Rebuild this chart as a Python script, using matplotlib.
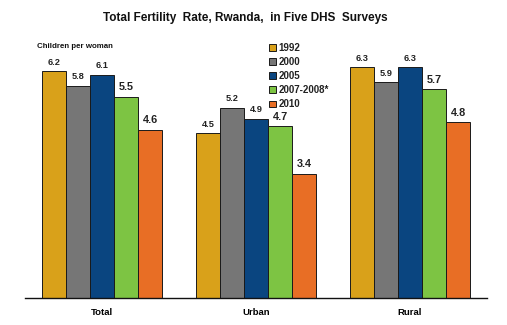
import matplotlib.pyplot as plt
import numpy as np

plt.rcParams['font.family'] = ['Liberation Sans', 'DejaVu Sans']

categories = ["Total", "Urban", "Rural"]
series_names = ["1992", "2000", "2005", "2007-2008*", "2010"]
values = {
    "1992": [6.2, 4.5, 6.3],
    "2000": [5.8, 5.2, 5.9],
    "2005": [6.1, 4.9, 6.3],
    "2007-2008*": [5.5, 4.7, 5.7],
    "2010": [4.6, 3.4, 4.8],
}
colors = ["#D9A11A", "#767676", "#0A4580", "#7DC443", "#E86E25"]
big_label = {"2007-2008*": True, "2010": True}

fig = plt.figure(figsize=(5.07, 3.25), dpi=100)
ax = fig.add_axes([25/507, 1 - 298/325, 462/507, 258/325])

x = np.arange(len(categories))
w = 0.156
n = len(series_names)
for i, (name, c) in enumerate(zip(series_names, colors)):
    xs = x + (i - (n - 1) / 2) * w
    bars = ax.bar(xs, values[name], w, color=c, edgecolor="#1a1a1a", linewidth=0.7, label=name)
    fs = 7.8 if big_label.get(name) else 6.6
    for xi, v in zip(xs, values[name]):
        ax.text(xi, v + 0.12, f"{v:.1f}", ha="center", va="bottom", fontsize=fs, fontweight="bold", color="#222222")

ax.set_xlim(-0.5, 2.5)
ax.set_ylim(0, 258 / 36.6)
ax.set_xticks(x)
ax.set_xticklabels(categories, fontsize=6.8, fontweight="bold")
ax.tick_params(axis="x", length=0, pad=7)
ax.set_yticks([])
for s in ["top", "right", "left"]:
    ax.spines[s].set_visible(False)
ax.spines["bottom"].set_linewidth(1.0)
ax.spines["bottom"].set_color("#111111")

leg = ax.legend(loc="upper left", bbox_to_anchor=((269 - 25) / 462, (298 - 43) / 258),
                frameon=False, fontsize=7.0, handlelength=0.7, handleheight=0.7,
                handletextpad=0.3, labelspacing=0.42, borderaxespad=0, borderpad=0)
for t in leg.get_texts():
    t.set_fontweight("bold")
    t.set_color("#222222")

fig.text(245/507, 1 - 18/325, "Total Fertility  Rate, Rwanda,  in Five DHS  Surveys", ha="center", va="center",
         fontsize=8.5, fontweight="bold", color="#111111")
fig.text(37/507, 1 - 47/325, "Children per woman", ha="left", va="center", fontsize=5.7, fontweight="bold", color="#111111")

fig.savefig("out.png", dpi=100)
